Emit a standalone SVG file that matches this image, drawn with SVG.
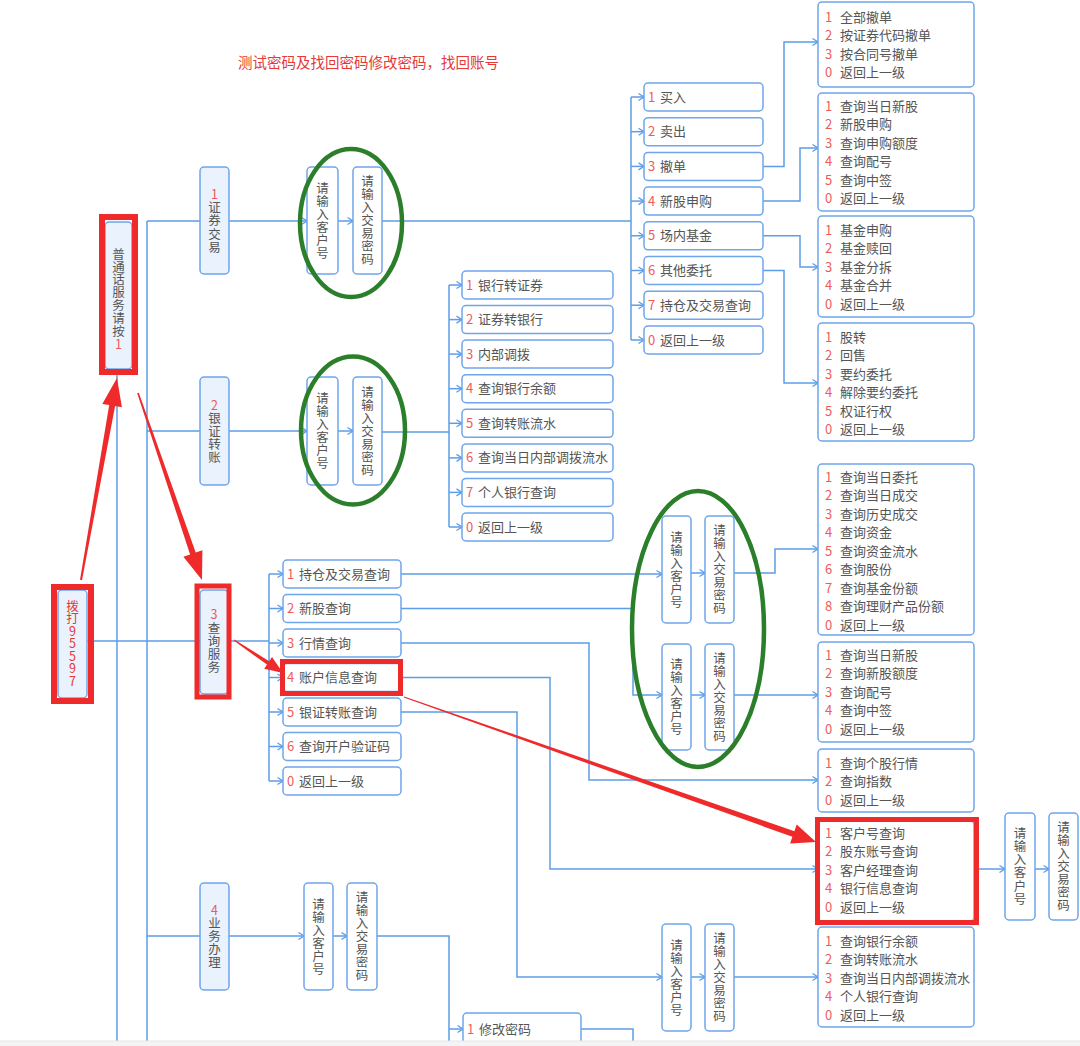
<svg xmlns="http://www.w3.org/2000/svg" width="1080" height="1046" viewBox="0 0 1080 1046">
<style>
.ln{fill:none;stroke:#5e9de8;stroke-width:1.5}
.box{fill:#fff;stroke:#6fa5ea;stroke-width:1.5}
.nb{fill:#eaf2fd;stroke:#6fa5ea;stroke-width:1.5}
.t{font-family:"Noto Sans CJK SC","Noto Sans",sans-serif;font-size:13px;fill:#555}
.vt{font-family:"Noto Sans CJK SC","Noto Sans",sans-serif;font-size:12.5px;fill:#555;writing-mode:vertical-rl;text-orientation:upright;text-anchor:middle;letter-spacing:0.5px}
.n{fill:#ef5b5b}
.red{fill:none;stroke:#ee2a2a;stroke-width:6}
.ra{fill:#ee2a2a}
.grn{fill:none;stroke:#2b7f2b;stroke-width:4.5}
</style>
<defs>
<marker id="a" markerWidth="8" markerHeight="10" refX="7" refY="5" orient="auto" markerUnits="userSpaceOnUse"><path d="M1.5,1.5 L7,5 L1.5,8.5" fill="none" stroke="#5e9de8" stroke-width="1.3"/></marker>
</defs>
<rect width="1080" height="1046" fill="#fff"/>
<text class="t" x="238" y="68" style="font-size:14.5px;fill:#e53935">测试密码及找回密码修改密码，找回账号</text>

<g id="connectors">
<path class="ln" d="M117,368 V1041 M147,221 V1041 M147,221 H200 M147,431 H200 M147,936 H200 M87,641 H200"/>
<path class="ln" d="M229,221 H307" marker-end="url(#a)"/>
<path class="ln" d="M338,221 H353" marker-end="url(#a)"/>
<path class="ln" d="M382,221 H631 M631,97 V340"/>
<path class="ln" d="M631,97 H644" marker-end="url(#a)"/>
<path class="ln" d="M631,131.7 H644" marker-end="url(#a)"/>
<path class="ln" d="M631,166.4 H644" marker-end="url(#a)"/>
<path class="ln" d="M631,201.1 H644" marker-end="url(#a)"/>
<path class="ln" d="M631,235.8 H644" marker-end="url(#a)"/>
<path class="ln" d="M631,270.5 H644" marker-end="url(#a)"/>
<path class="ln" d="M631,305.2 H644" marker-end="url(#a)"/>
<path class="ln" d="M631,340 H644" marker-end="url(#a)"/>
<path class="ln" d="M763,166.4 H784 V42 H818" marker-end="url(#a)"/>
<path class="ln" d="M763,201.1 H800 V148 H818" marker-end="url(#a)"/>
<path class="ln" d="M763,235.8 H800 V267 H818" marker-end="url(#a)"/>
<path class="ln" d="M763,270.5 H784 V383 H818" marker-end="url(#a)"/>
<path class="ln" d="M229,431 H307" marker-end="url(#a)"/>
<path class="ln" d="M338,431 H353" marker-end="url(#a)"/>
<path class="ln" d="M382,432 H449 M449,285 V527"/>
<path class="ln" d="M449,285 H462" marker-end="url(#a)"/>
<path class="ln" d="M449,319.6 H462" marker-end="url(#a)"/>
<path class="ln" d="M449,354.1 H462" marker-end="url(#a)"/>
<path class="ln" d="M449,388.7 H462" marker-end="url(#a)"/>
<path class="ln" d="M449,423.3 H462" marker-end="url(#a)"/>
<path class="ln" d="M449,457.9 H462" marker-end="url(#a)"/>
<path class="ln" d="M449,492.4 H462" marker-end="url(#a)"/>
<path class="ln" d="M449,527 H462" marker-end="url(#a)"/>
<path class="ln" d="M228,641 H269 M269,574 V781"/>
<path class="ln" d="M269,574 H283" marker-end="url(#a)"/>
<path class="ln" d="M269,608.5 H283" marker-end="url(#a)"/>
<path class="ln" d="M269,643 H283" marker-end="url(#a)"/>
<path class="ln" d="M269,677.5 H283" marker-end="url(#a)"/>
<path class="ln" d="M269,712 H283" marker-end="url(#a)"/>
<path class="ln" d="M269,746.5 H283" marker-end="url(#a)"/>
<path class="ln" d="M269,781 H283" marker-end="url(#a)"/>
<path class="ln" d="M401,574 H662" marker-end="url(#a)"/>
<path class="ln" d="M401,608.5 H633 V695 H662" marker-end="url(#a)"/>
<path class="ln" d="M691,573 H705" marker-end="url(#a)"/>
<path class="ln" d="M691,695 H705" marker-end="url(#a)"/>
<path class="ln" d="M734,573 H775 V549 H818" marker-end="url(#a)"/>
<path class="ln" d="M734,695 H818" marker-end="url(#a)"/>
<path class="ln" d="M401,643 H589 V780 H818" marker-end="url(#a)"/>
<path class="ln" d="M401,677.5 H550 V869 H818" marker-end="url(#a)"/>
<path class="ln" d="M401,712 H517 V977 H662" marker-end="url(#a)"/>
<path class="ln" d="M691,977 H705" marker-end="url(#a)"/>
<path class="ln" d="M734,977 H818" marker-end="url(#a)"/>
<path class="ln" d="M979,869 H1005" marker-end="url(#a)"/>
<path class="ln" d="M1035,869 H1049" marker-end="url(#a)"/>
<path class="ln" d="M229,936 H304" marker-end="url(#a)"/>
<path class="ln" d="M333,936 H347" marker-end="url(#a)"/>
<path class="ln" d="M377,936 H449 V1041"/>
<path class="ln" d="M449,1029 H463" marker-end="url(#a)"/>
<path class="ln" d="M581,1029 H633 V1041"/>
</g>

<g id="n-putonghua"><rect class="nb" x="105" y="222" width="27" height="147" rx="4"/>
<text class="vt" x="118.5" y="299" style="letter-spacing:0.3px">普通话服务请按<tspan class="n">1</tspan></text></g>
<g id="n-dial"><rect class="nb" x="58" y="590" width="29" height="108" rx="4"/>
<text class="vt" x="72.5" y="643.5" style="fill:#e53935;letter-spacing:0">拨打95597</text></g>
<g id="n-1"><rect class="nb" x="200" y="167" width="29" height="107" rx="4"/>
<text class="vt" x="214.5" y="221" style="letter-spacing:0.8px"><tspan class="n">1</tspan>证券交易</text></g>
<g id="n-2"><rect class="nb" x="200" y="377" width="29" height="108" rx="4"/>
<text class="vt" x="214.5" y="431"><tspan class="n">2</tspan>银证转账</text></g>
<g id="n-3"><rect class="nb" x="200" y="590" width="28" height="104" rx="4"/>
<text class="vt" x="214" y="641.5" style="letter-spacing:0.7px"><tspan class="n">3</tspan>查询服务</text></g>
<g id="n-4"><rect class="nb" x="200" y="883" width="29" height="107" rx="4"/>
<text class="vt" x="214.5" y="936"><tspan class="n">4</tspan>业务办理</text></g>

<g id="n-e1-id"><rect class="box" x="307" y="167" width="31" height="107" rx="4"/><text class="vt" x="322.5" y="220.5">请输入客户号</text></g>
<g id="n-e1-pw"><rect class="box" x="353" y="167" width="29" height="107" rx="4"/><text class="vt" x="367.5" y="220.5">请输入交易密码</text></g>
<g id="n-e2-id"><rect class="box" x="307" y="377" width="31" height="108" rx="4"/><text class="vt" x="322.5" y="431">请输入客户号</text></g>
<g id="n-e2-pw"><rect class="box" x="353" y="377" width="29" height="108" rx="4"/><text class="vt" x="367.5" y="431">请输入交易密码</text></g>
<g id="n-b4-id"><rect class="box" x="304" y="883" width="29" height="107" rx="4"/><text class="vt" x="318.5" y="936.5">请输入客户号</text></g>
<g id="n-b4-pw"><rect class="box" x="347" y="883" width="30" height="107" rx="4"/><text class="vt" x="362" y="936.5">请输入交易密码</text></g>
<g id="n-e3a-id"><rect class="box" x="662" y="516" width="29" height="107" rx="4"/><text class="vt" x="676.5" y="569.5">请输入客户号</text></g>
<g id="n-e3a-pw"><rect class="box" x="705" y="516" width="29" height="107" rx="4"/><text class="vt" x="719.5" y="569.5">请输入交易密码</text></g>
<g id="n-e3b-id"><rect class="box" x="662" y="644" width="29" height="106" rx="4"/><text class="vt" x="676.5" y="697">请输入客户号</text></g>
<g id="n-e3b-pw"><rect class="box" x="705" y="644" width="29" height="106" rx="4"/><text class="vt" x="719.5" y="697">请输入交易密码</text></g>
<g id="n-e4-id"><rect class="box" x="662" y="924" width="29" height="107" rx="4"/><text class="vt" x="676.5" y="977.5">请输入客户号</text></g>
<g id="n-e4-pw"><rect class="box" x="705" y="924" width="29" height="107" rx="4"/><text class="vt" x="719.5" y="977.5">请输入交易密码</text></g>
<g id="n-l8-id"><rect class="box" x="1005" y="813" width="30" height="107" rx="4"/><text class="vt" x="1020" y="866.5" style="letter-spacing:0.8px">请输入客户号</text></g>
<g id="n-l8-pw"><rect class="box" x="1049" y="813" width="29" height="107" rx="4"/><text class="vt" x="1063.5" y="866.5">请输入交易密码</text></g>

<g id="trade-list">
<rect class="box" x="644" y="83" width="119" height="28" rx="4"/><text class="t" y="101.5"><tspan class="n" x="648">1</tspan><tspan x="660">买入</tspan></text>
<rect class="box" x="644" y="117.7" width="119" height="28" rx="4"/><text class="t" y="136.2"><tspan class="n" x="648">2</tspan><tspan x="660">卖出</tspan></text>
<rect class="box" x="644" y="152.4" width="119" height="28" rx="4"/><text class="t" y="170.9"><tspan class="n" x="648">3</tspan><tspan x="660">撤单</tspan></text>
<rect class="box" x="644" y="187.1" width="119" height="28" rx="4"/><text class="t" y="205.6"><tspan class="n" x="648">4</tspan><tspan x="660">新股申购</tspan></text>
<rect class="box" x="644" y="221.8" width="119" height="28" rx="4"/><text class="t" y="240.3"><tspan class="n" x="648">5</tspan><tspan x="660">场内基金</tspan></text>
<rect class="box" x="644" y="256.5" width="119" height="28" rx="4"/><text class="t" y="275"><tspan class="n" x="648">6</tspan><tspan x="660">其他委托</tspan></text>
<rect class="box" x="644" y="291.2" width="119" height="28" rx="4"/><text class="t" y="309.7"><tspan class="n" x="648">7</tspan><tspan x="660">持仓及交易查询</tspan></text>
<rect class="box" x="644" y="326" width="119" height="28" rx="4"/><text class="t" y="344.5"><tspan class="n" x="648">0</tspan><tspan x="660">返回上一级</tspan></text>
</g>

<g id="bank-list">
<rect class="box" x="462" y="271" width="151" height="28" rx="4"/><text class="t" y="289.5"><tspan class="n" x="466">1</tspan><tspan x="478">银行转证券</tspan></text>
<rect class="box" x="462" y="305.6" width="151" height="28" rx="4"/><text class="t" y="324.1"><tspan class="n" x="466">2</tspan><tspan x="478">证券转银行</tspan></text>
<rect class="box" x="462" y="340.1" width="151" height="28" rx="4"/><text class="t" y="358.6"><tspan class="n" x="466">3</tspan><tspan x="478">内部调拨</tspan></text>
<rect class="box" x="462" y="374.7" width="151" height="28" rx="4"/><text class="t" y="393.2"><tspan class="n" x="466">4</tspan><tspan x="478">查询银行余额</tspan></text>
<rect class="box" x="462" y="409.3" width="151" height="28" rx="4"/><text class="t" y="427.8"><tspan class="n" x="466">5</tspan><tspan x="478">查询转账流水</tspan></text>
<rect class="box" x="462" y="443.9" width="151" height="28" rx="4"/><text class="t" y="462.4"><tspan class="n" x="466">6</tspan><tspan x="478">查询当日内部调拨流水</tspan></text>
<rect class="box" x="462" y="478.4" width="151" height="28" rx="4"/><text class="t" y="496.9"><tspan class="n" x="466">7</tspan><tspan x="478">个人银行查询</tspan></text>
<rect class="box" x="462" y="513" width="151" height="28" rx="4"/><text class="t" y="531.5"><tspan class="n" x="466">0</tspan><tspan x="478">返回上一级</tspan></text>
</g>

<g id="query-list">
<rect class="box" x="283" y="560" width="118" height="28" rx="4"/><text class="t" y="578.5"><tspan class="n" x="287">1</tspan><tspan x="299">持仓及交易查询</tspan></text>
<rect class="box" x="283" y="594.5" width="118" height="28" rx="4"/><text class="t" y="613"><tspan class="n" x="287">2</tspan><tspan x="299">新股查询</tspan></text>
<rect class="box" x="283" y="629" width="118" height="28" rx="4"/><text class="t" y="647.5"><tspan class="n" x="287">3</tspan><tspan x="299">行情查询</tspan></text>
<rect class="box" x="283" y="663.5" width="118" height="28" rx="4"/><text class="t" y="682"><tspan class="n" x="287">4</tspan><tspan x="299">账户信息查询</tspan></text>
<rect class="box" x="283" y="698" width="118" height="28" rx="4"/><text class="t" y="716.5"><tspan class="n" x="287">5</tspan><tspan x="299">银证转账查询</tspan></text>
<rect class="box" x="283" y="732.5" width="118" height="28" rx="4"/><text class="t" y="751"><tspan class="n" x="287">6</tspan><tspan x="299">查询开户验证码</tspan></text>
<rect class="box" x="283" y="767" width="118" height="28" rx="4"/><text class="t" y="785.5"><tspan class="n" x="287">0</tspan><tspan x="299">返回上一级</tspan></text>
</g>

<g id="n-modify"><rect class="box" x="463" y="1013" width="118" height="34" rx="4"/><text class="t" y="1033.5"><tspan class="n" x="467">1</tspan><tspan x="479">修改密码</tspan></text></g>

<g id="l1"><rect class="box" x="818" y="2" width="156" height="85" rx="4"/>
<text class="t" y="21.5"><tspan class="n" x="825">1</tspan><tspan x="840">全部撤单</tspan></text>
<text class="t" y="40"><tspan class="n" x="825">2</tspan><tspan x="840">按证券代码撤单</tspan></text>
<text class="t" y="58.5"><tspan class="n" x="825">3</tspan><tspan x="840">按合同号撤单</tspan></text>
<text class="t" y="77"><tspan class="n" x="825">0</tspan><tspan x="840">返回上一级</tspan></text></g>
<g id="l2"><rect class="box" x="818" y="93" width="156" height="118" rx="4"/>
<text class="t" y="110.5"><tspan class="n" x="825">1</tspan><tspan x="840">查询当日新股</tspan></text>
<text class="t" y="129"><tspan class="n" x="825">2</tspan><tspan x="840">新股申购</tspan></text>
<text class="t" y="147.5"><tspan class="n" x="825">3</tspan><tspan x="840">查询申购额度</tspan></text>
<text class="t" y="166"><tspan class="n" x="825">4</tspan><tspan x="840">查询配号</tspan></text>
<text class="t" y="184.5"><tspan class="n" x="825">5</tspan><tspan x="840">查询中签</tspan></text>
<text class="t" y="203"><tspan class="n" x="825">0</tspan><tspan x="840">返回上一级</tspan></text></g>
<g id="l3"><rect class="box" x="818" y="216" width="156" height="101" rx="4"/>
<text class="t" y="234.5"><tspan class="n" x="825">1</tspan><tspan x="840">基金申购</tspan></text>
<text class="t" y="253"><tspan class="n" x="825">2</tspan><tspan x="840">基金赎回</tspan></text>
<text class="t" y="271.5"><tspan class="n" x="825">3</tspan><tspan x="840">基金分拆</tspan></text>
<text class="t" y="290"><tspan class="n" x="825">4</tspan><tspan x="840">基金合并</tspan></text>
<text class="t" y="308.5"><tspan class="n" x="825">0</tspan><tspan x="840">返回上一级</tspan></text></g>
<g id="l4"><rect class="box" x="818" y="323" width="156" height="118" rx="4"/>
<text class="t" y="341.5"><tspan class="n" x="825">1</tspan><tspan x="840">股转</tspan></text>
<text class="t" y="360"><tspan class="n" x="825">2</tspan><tspan x="840">回售</tspan></text>
<text class="t" y="378.5"><tspan class="n" x="825">3</tspan><tspan x="840">要约委托</tspan></text>
<text class="t" y="397"><tspan class="n" x="825">4</tspan><tspan x="840">解除要约委托</tspan></text>
<text class="t" y="415.5"><tspan class="n" x="825">5</tspan><tspan x="840">权证行权</tspan></text>
<text class="t" y="434"><tspan class="n" x="825">0</tspan><tspan x="840">返回上一级</tspan></text></g>
<g id="l5"><rect class="box" x="818" y="464" width="156" height="171" rx="4"/>
<text class="t" y="481.5"><tspan class="n" x="825">1</tspan><tspan x="840">查询当日委托</tspan></text>
<text class="t" y="500"><tspan class="n" x="825">2</tspan><tspan x="840">查询当日成交</tspan></text>
<text class="t" y="518.5"><tspan class="n" x="825">3</tspan><tspan x="840">查询历史成交</tspan></text>
<text class="t" y="537"><tspan class="n" x="825">4</tspan><tspan x="840">查询资金</tspan></text>
<text class="t" y="555.5"><tspan class="n" x="825">5</tspan><tspan x="840">查询资金流水</tspan></text>
<text class="t" y="574"><tspan class="n" x="825">6</tspan><tspan x="840">查询股份</tspan></text>
<text class="t" y="592.5"><tspan class="n" x="825">7</tspan><tspan x="840">查询基金份额</tspan></text>
<text class="t" y="611"><tspan class="n" x="825">8</tspan><tspan x="840">查询理财产品份额</tspan></text>
<text class="t" y="629.5"><tspan class="n" x="825">0</tspan><tspan x="840">返回上一级</tspan></text></g>
<g id="l6"><rect class="box" x="818" y="642" width="156" height="100" rx="4"/>
<text class="t" y="659.5"><tspan class="n" x="825">1</tspan><tspan x="840">查询当日新股</tspan></text>
<text class="t" y="678"><tspan class="n" x="825">2</tspan><tspan x="840">查询新股额度</tspan></text>
<text class="t" y="696.5"><tspan class="n" x="825">3</tspan><tspan x="840">查询配号</tspan></text>
<text class="t" y="715"><tspan class="n" x="825">4</tspan><tspan x="840">查询中签</tspan></text>
<text class="t" y="733.5"><tspan class="n" x="825">0</tspan><tspan x="840">返回上一级</tspan></text></g>
<g id="l7"><rect class="box" x="818" y="749" width="156" height="63" rx="4"/>
<text class="t" y="767.5"><tspan class="n" x="825">1</tspan><tspan x="840">查询个股行情</tspan></text>
<text class="t" y="786"><tspan class="n" x="825">2</tspan><tspan x="840">查询指数</tspan></text>
<text class="t" y="804.5"><tspan class="n" x="825">0</tspan><tspan x="840">返回上一级</tspan></text></g>
<g id="l8"><rect class="box" x="818" y="821" width="156" height="100" rx="4"/>
<text class="t" y="837.5"><tspan class="n" x="825">1</tspan><tspan x="840">客户号查询</tspan></text>
<text class="t" y="856"><tspan class="n" x="825">2</tspan><tspan x="840">股东账号查询</tspan></text>
<text class="t" y="874.5"><tspan class="n" x="825">3</tspan><tspan x="840">客户经理查询</tspan></text>
<text class="t" y="893"><tspan class="n" x="825">4</tspan><tspan x="840">银行信息查询</tspan></text>
<text class="t" y="911.5"><tspan class="n" x="825">0</tspan><tspan x="840">返回上一级</tspan></text></g>
<g id="l9"><rect class="box" x="818" y="927" width="156" height="100" rx="4"/>
<text class="t" y="945.5"><tspan class="n" x="825">1</tspan><tspan x="840">查询银行余额</tspan></text>
<text class="t" y="964"><tspan class="n" x="825">2</tspan><tspan x="840">查询转账流水</tspan></text>
<text class="t" y="982.5"><tspan class="n" x="825">3</tspan><tspan x="840">查询当日内部调拨流水</tspan></text>
<text class="t" y="1001"><tspan class="n" x="825">4</tspan><tspan x="840">个人银行查询</tspan></text>
<text class="t" y="1019.5"><tspan class="n" x="825">0</tspan><tspan x="840">返回上一级</tspan></text></g>

<g id="annotations">
<ellipse class="grn" cx="351" cy="223" rx="51" ry="74"/>
<ellipse class="grn" cx="353" cy="430.5" rx="52" ry="74"/>
<ellipse class="grn" cx="698" cy="629" rx="66" ry="138"/>
<rect class="red" x="102" y="217" width="33" height="155"/>
<rect class="red" x="54" y="587" width="37" height="114"/>
<rect class="red" x="197" y="586" width="32" height="111" style="stroke-width:5"/>
<rect class="red" x="282.5" y="661.5" width="118" height="32" style="stroke-width:5"/>
<rect class="red" x="817.5" y="819.5" width="159" height="103" style="stroke-width:5"/>
<polygon class="ra" points="80,579.8 109.2,405.1 102.3,403.9 117,378 121.9,407.3 115.1,406.1 82,580.2"/>
<polygon class="ra" points="137.2,393.3 190.1,554.5 183.4,556.7 202,580 202.4,550.3 195.7,552.5 138.8,392.7"/>
<polygon class="ra" points="233.7,640.5 267,664.6 264.2,668.7 283,673 272,657.1 269.2,661.2 234.3,639.5"/>
<polygon class="ra" points="403.8,697.5 792.4,836.8 790.1,843.4 816,842 796.7,824.6 794.4,831.2 404.2,696.5"/>
</g>
<rect x="0" y="1041" width="1080" height="5" fill="#f4f4f4"/>
<line x1="0" y1="1041" x2="1080" y2="1041" stroke="#e4e4e4" stroke-width="1"/>
</svg>
